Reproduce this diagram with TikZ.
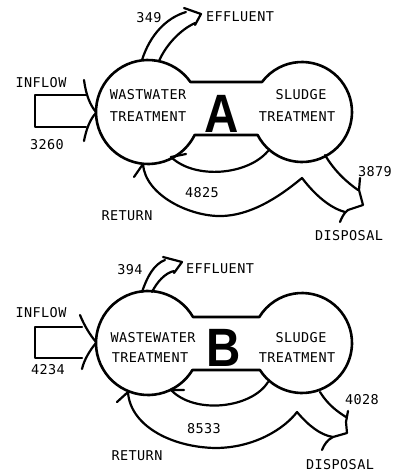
\documentclass[tikz,border=0pt]{standalone}
\usepackage{fontspec}
\newfontfamily\plotfont{DejaVu Sans Mono}[LetterSpace=3]
\newfontfamily\bigfont{Liberation Sans}[FakeStretch=0.88]
\usetikzlibrary{calc}

\begin{document}
\begin{tikzpicture}[x=1pt, y=-1pt,
        line cap=round, line join=round,
        tank/.style={black, line width=2.6pt},
        flow/.style={black, line width=2.2pt},
        lbl/.style={font=\plotfont\fontsize{13.5}{13.5}\selectfont, inner sep=0pt},
        big/.style={font=\bigfont\bfseries\fontsize{54}{54}\selectfont, inner sep=0pt}]

        \def\drawTanks{ % two tanks joined by a band, centres at height \cy
        \pgfmathsetmacro\aLt{-asin(\bTop/52)}
        \pgfmathsetmacro\aLb{asin(\bBot/52)-360}
        \pgfmathsetmacro\aRb{180-asin(\bBot/50)}
        \pgfmathsetmacro\aRt{asin(\bTop/50)-180}
        \draw[tank] ($(148,\cy)+(\aLt:52)$) arc[start angle=\aLt, end angle=\aLb, radius=52]
        -- ($(302,\cy)+(\aRb:50)$) arc[start angle=\aRb, end angle=\aRt, radius=50] -- cycle;
        }

        \useasboundingbox (0,0) rectangle (402,472);

        % PLANT A
        \def\cy{112} \def\bTop{30} \def\bBot{23}
        \drawTanks
        % inflow
        \draw[flow] (87,95) -- (35,95) -- (35,127) -- (86,127);
        \draw[flow] (84,80) .. controls (86,95) and (90,105) .. (96,112);
        \draw[flow] (84,141) .. controls (86,130) and (90,119) .. (96,113);
        % effluent
        \draw[flow] (142,60) .. controls (150,35) and (166,18) .. (186,12);
        \draw[flow] (159,61) .. controls (166,45) and (180,30) .. (195,23);
        \draw[flow] (184,8) -- (201,14) -- (195,25);
        % return and disposal
        \draw[flow] (268,151) .. controls (248,175) and (195,180) .. (171,157) -- (186,154);
        \draw[flow] (134,177) -- (143,164) .. controls (145,195) and (190,217) .. (222,216)
        .. controls (255,215) and (285,192) .. (302,178) .. controls (315,195) and (330,208) .. (345,212);
        \draw[flow] (325,155) .. controls (335,172) and (348,183) .. (358,190);
        \draw[flow] (360,178) -- (359,190) -- (363,205) -- (348,210) .. controls (344,213) and (342,217) .. (340,222);

        \node[lbl] (inA) at (41,83) {INFLOW};
        \node[lbl] (qinA) at (47,145) {3260};
        \node[lbl] (qeffA) at (149,18) {349};
        \node[lbl] (effA) at (240,17) {EFFLUENT};
        \node[lbl] (wwA) at (148,95) {WASTWATER};
        \node[lbl] (wwtA) at (148,117) {TREATMENT};
        \node[lbl] (slA) at (301,95) {SLUDGE};
        \node[lbl] (sltA) at (297,117) {TREATMENT};
        \node[big] (plantA) at (222,114) {A};
        \node[lbl] (qretA) at (202,193) {4825};
        \node[lbl] (retA) at (127,216) {RETURN};
        \node[lbl] (qdisA) at (375,172) {3879};
        \node[lbl] (disA) at (349,236) {DISPOSAL};

        % PLANT B
        \def\cy{343} \def\bTop{26} \def\bBot{27}
        \drawTanks
        % inflow
        \draw[flow] (82,327) -- (35,327) -- (35,358) -- (82,358);
        \draw[flow] (80,315) .. controls (84,325) and (90,335) .. (96,342);
        \draw[flow] (82,369) .. controls (84,360) and (90,350) .. (96,343);
        % effluent
        \draw[flow] (142,292) .. controls (147,277) and (154,264) .. (165,260);
        \draw[flow] (152,292) .. controls (157,282) and (165,273) .. (174,271);
        \draw[flow] (163,257) -- (182,262) -- (174,273);
        % return and disposal
        \draw[flow] (268,382) .. controls (252,408) and (195,415) .. (171,390) -- (184,390);
        \draw[flow] (117,402) -- (128,392) .. controls (130,425) and (170,447) .. (215,448)
        .. controls (255,448) and (285,428) .. (297,412) .. controls (308,425) and (320,435) .. (333,437);
        \draw[flow] (320,392) .. controls (328,405) and (338,412) .. (346,417);
        \draw[flow] (348,411) -- (346,422) -- (347,433) -- (333,437) .. controls (327,440) and (324,445) .. (322,450);

        \node[lbl] (inB) at (41,313) {INFLOW};
        \node[lbl] (qinB) at (48,370) {4234};
        \node[lbl] (qeffB) at (130,270) {394};
        \node[lbl] (effB) at (220,269) {EFFLUENT};
        \node[lbl] (wwB) at (153,338) {WASTEWATER};
        \node[lbl] (wwtB) at (150,358) {TREATMENT};
        \node[lbl] (slB) at (301,338) {SLUDGE};
        \node[lbl] (sltB) at (297,358) {TREATMENT};
        \node[big] (plantB) at (224,348) {B};
        \node[lbl] (qretB) at (204,429) {8533};
        \node[lbl] (retB) at (137,456) {RETURN};
        \node[lbl] (qdisB) at (362,400) {4028};
        \node[lbl] (disB) at (340,465) {DISPOSAL};

    \end{tikzpicture}
\end{document}
